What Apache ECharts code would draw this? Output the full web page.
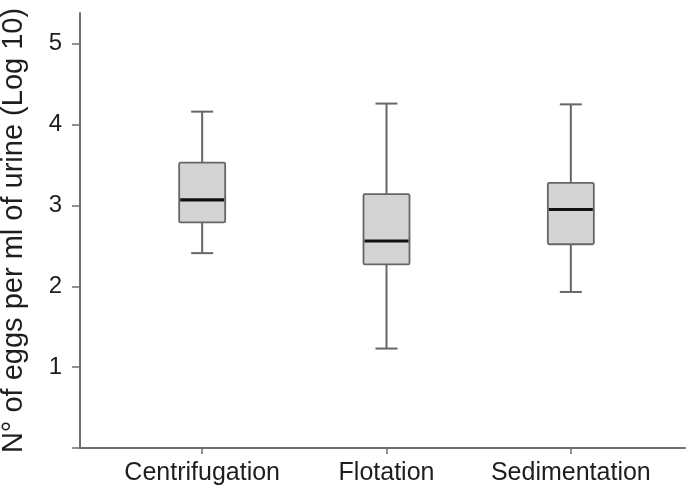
<!DOCTYPE html>
<html>
<head>
<meta charset="utf-8">
<script src="https://cdn.jsdelivr.net/npm/echarts@6/dist/echarts.min.js"></script>
<style>html,body{margin:0;padding:0;background:#fff;}#c{width:688px;height:492px;}</style>
</head>
<body>
<div id="c"></div>
<script>
const categories = ['Centrifugation', 'Flotation', 'Sedimentation'];
const mins    = [2.41, 1.23, 1.93];
const q1s     = [2.79, 2.27, 2.52];
const medians = [3.07, 2.56, 2.95];
const q3s     = [3.53, 3.14, 3.28];
const maxs    = [4.16, 4.26, 4.25];
const yTicks  = [0, 1, 2, 3, 4, 5];
const yLabels = [1, 2, 3, 4, 5];
const yMax = 5.38;

const boxRows = categories.map((c, i) => [i, mins[i], q1s[i], medians[i], q3s[i], maxs[i]]);

const axisColor = '#6e6e6e';
const boxBorder = '#666';
const font = 'Liberation Sans, Arial, sans-serif';
const BOX_W = 46, CAP_W = 22;

function renderBox(params, api) {
  const x = api.value(0);
  const pMin = api.coord([x, api.value(1)]);
  const pQ1 = api.coord([x, api.value(2)]);
  const pMed = api.coord([x, api.value(3)]);
  const pQ3 = api.coord([x, api.value(4)]);
  const pMax = api.coord([x, api.value(5)]);
  const cx = pMin[0];
  const wl = {stroke: boxBorder, lineWidth: 2};
  return {
    type: 'group',
    children: [
      {type: 'line', shape: {x1: cx, y1: pMax[1], x2: cx, y2: pQ3[1]}, style: wl},
      {type: 'line', shape: {x1: cx, y1: pQ1[1], x2: cx, y2: pMin[1]}, style: wl},
      {type: 'line', shape: {x1: cx - CAP_W / 2, y1: pMax[1], x2: cx + CAP_W / 2, y2: pMax[1]}, style: wl},
      {type: 'line', shape: {x1: cx - CAP_W / 2, y1: pMin[1], x2: cx + CAP_W / 2, y2: pMin[1]}, style: wl},
      {type: 'rect', shape: {x: cx - BOX_W / 2, y: pQ3[1], width: BOX_W, height: pQ1[1] - pQ3[1], r: 1.5},
       style: {fill: '#d4d4d4', stroke: boxBorder, lineWidth: 1.8}},
      {type: 'line', shape: {x1: cx - BOX_W / 2 + 1, y1: pMed[1], x2: cx + BOX_W / 2 - 1, y2: pMed[1]},
       style: {stroke: '#111', lineWidth: 3.2}}
    ]
  };
}

const chart = echarts.init(document.getElementById('c'), null, {renderer: 'canvas'});
chart.setOption({
  animation: false,
  backgroundColor: '#fff',
  grid: [
    {left: 80, right: 3, top: 13, bottom: 44, containLabel: false, outerBoundsMode: 'none'},
    {left: 110, right: 25, top: 13, bottom: 44, containLabel: false, outerBoundsMode: 'none'}
  ],
  xAxis: [
    {gridIndex: 0, type: 'value', min: 0, max: 1,
     axisLine: {show: true, lineStyle: {color: axisColor, width: 2}},
     axisTick: {show: false}, axisLabel: {show: false}, splitLine: {show: false}},
    {gridIndex: 1, type: 'category', data: categories,
     axisLine: {show: false},
     axisTick: {show: true, alignWithLabel: true, length: 6, lineStyle: {color: axisColor, width: 1.5}},
     axisLabel: {interval: 0, margin: 13, fontSize: 25, fontFamily: font, color: '#1e1e1e'},
     splitLine: {show: false}}
  ],
  yAxis: [
    {gridIndex: 0, type: 'value', min: 0, max: yMax,
     axisLine: {show: true, lineStyle: {color: axisColor, width: 2}},
     axisTick: {show: true, length: 8, customValues: yTicks, lineStyle: {color: axisColor, width: 1.5}},
     axisLabel: {customValues: yLabels, margin: 18, fontSize: 24, fontFamily: font, color: '#1e1e1e'},
     splitLine: {show: false},
     name: 'N° of eggs per ml of urine (Log 10)',
     nameLocation: 'middle', nameRotate: 90, nameGap: 52,
     nameTextStyle: {fontSize: 29, fontFamily: font, color: '#1e1e1e'}},
    {gridIndex: 1, type: 'value', min: 0, max: yMax, show: false}
  ],
  series: [
    {type: 'custom', xAxisIndex: 1, yAxisIndex: 1, data: boxRows,
     encode: {x: 0, y: [1, 2, 3, 4, 5]}, renderItem: renderBox}
  ]
});
</script>
</body>
</html>
